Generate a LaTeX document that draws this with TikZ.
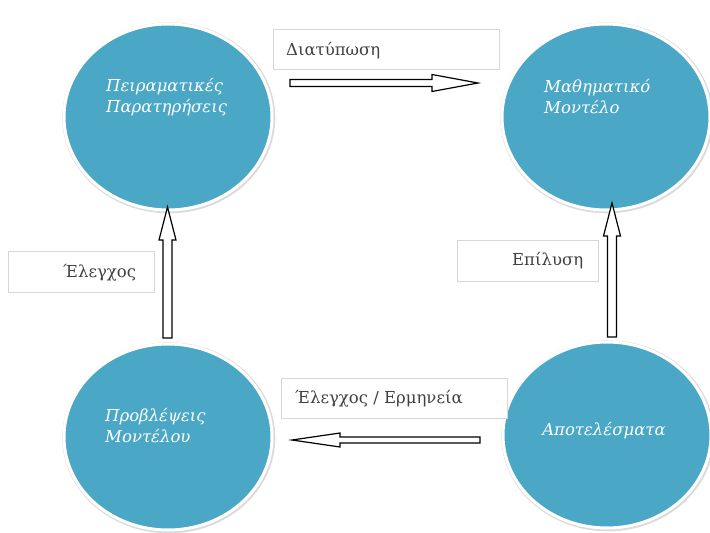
\documentclass[tikz,border=0pt]{standalone}
\usepackage{fontspec}
\setmainfont{DejaVu Serif}
\usetikzlibrary{calc,shapes.geometric}

\definecolor{stageblue}{RGB}{74,167,197}
\definecolor{labelgray}{RGB}{64,64,64}
\definecolor{boxline}{RGB}{215,215,215}

% block arrow from tail #1 to tip #2, using \bashaft, \bahead, \balen
\def\bashaft{3.5pt}
\def\bahead{8.5pt}
\def\balen{46pt}
\newcommand\blockarrow[2]{%
  \coordinate (ba-base) at ($(#2)!\balen!(#1)$);
  \draw[blockline]
    ($(#1)!\bashaft!90:(#2)$) -- ($(ba-base)!\bashaft!-90:(#1)$)
    -- ($(ba-base)!\bahead!-90:(#1)$) -- (#2)
    -- ($(ba-base)!\bahead!90:(#1)$) -- ($(ba-base)!\bashaft!90:(#1)$)
    -- ($(#1)!\bashaft!-90:(#2)$) -- cycle;}

\tikzset{
  stage/.style={ellipse, minimum width=208pt, minimum height=186pt, inner sep=0pt,
    fill=stageblue, draw=white, line width=3pt,
    preaction={draw=black!14, line width=5pt, transform canvas={shift={(0.8pt,-0.8pt)}}}},
  stagetext/.style={font=\itshape\fontsize{16.5}{21}\selectfont, text=white,
    align=left, inner sep=0pt},
  labelbox/.style={draw=boxline, line width=0.7pt, fill=white, inner sep=0pt},
  labeltext/.style={font=\fontsize{16.5}{19}\selectfont, text=labelgray, inner sep=0pt, anchor=west},
  blockline/.style={draw=black, line width=1.2pt, fill=white, line join=miter},
}

\begin{document}
\begin{tikzpicture}[x=1pt,y=-1pt]
  \useasboundingbox (0,0) rectangle (710,533);
  \fill[white] (0,0) rectangle (710,533);

  % the four stages of the modelling cycle
  \node[stage] (obs)     at (168,117) {};
  \node[stage] (model)   at (606,117) {};
  \node[stage] (pred)    at (168,437) {};
  \node[stage] (results) at (607,435) {};

  \node[stagetext, anchor=west] (obs-t)     at (106,97)  {Πειραματικές\\Παρατηρήσεις};
  \node[stagetext, anchor=west] (model-t)   at (544,97)  {Μαθηματικό\\Μοντέλο};
  \node[stagetext, anchor=west] (pred-t)    at (105,426) {Προβλέψεις\\Μοντέλου};
  \node[stagetext] (results-t) at (604,431) {Αποτελέσματα};

  % label boxes
  \node[labelbox, minimum width=226pt, minimum height=40pt] (lbl-d)  at (386,49)  {};
  \node[labelbox, minimum width=146pt, minimum height=41pt] (lbl-e1) at (81,271.5) {};
  \node[labelbox, minimum width=141pt, minimum height=41pt] (lbl-s)  at (527.5,260.5) {};
  \node[labelbox, minimum width=226pt, minimum height=40pt] (lbl-e2) at (394,398) {};

  \node[labeltext] (lbl-d-t)  at (286,51)  {Διατύπωση};
  \node[labeltext] (lbl-e1-t) at (63,273)  {Έλεγχος};
  \node[labeltext] (lbl-s-t)  at (512,261) {Επίλυση};
  \node[labeltext] (lbl-e2-t) at (295,399) {Έλεγχος / Ερμηνεία};

  % arrow end points
  \coordinate (d-tail)  at (290,83);
  \coordinate (d-tip)   at (478,83);
  \coordinate (e1-tail) at (167.5,338);
  \coordinate (e1-tip)  at (167.5,207);
  \coordinate (s-tail)  at (612,337);
  \coordinate (s-tip)   at (612,203);
  \coordinate (e2-tail) at (480,440);
  \coordinate (e2-tip)  at (292,440);

  \blockarrow{d-tail}{d-tip}
  \def\bashaft{4.5pt}\def\bahead{8.5pt}\def\balen{33pt}
  \blockarrow{e1-tail}{e1-tip}
  \blockarrow{s-tail}{s-tip}
  \def\bashaft{3pt}\def\bahead{7pt}\def\balen{48pt}
  \blockarrow{e2-tail}{e2-tip}
\end{tikzpicture}
\end{document}
